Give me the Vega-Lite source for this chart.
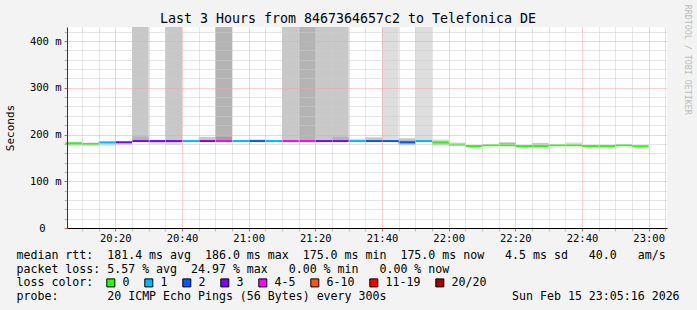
{
  "$schema": "https://vega.github.io/schema/vega-lite/v6.json",
  "width": 600,
  "height": 201,
  "autosize": {"type": "none"},
  "padding": {"left": 67, "top": 27, "right": 30, "bottom": 82},
  "background": "#f3f3f3",
  "title": {
    "text": "Last 3 Hours from 8467364657c2 to Telefonica DE",
    "font": "DejaVu Sans Mono",
    "fontSize": 13.3,
    "fontWeight": "normal",
    "color": "#000000",
    "anchor": "middle",
    "frame": "group",
    "dx": -19,
    "offset": -32,
    "baseline": "alphabetic"
  },
  "config": {
    "view": {"stroke": null, "fill": "#ffffff"},
    "font": "DejaVu Sans Mono"
  },
  "resolve": {"axis": {"x": "independent", "y": "independent"}},
  "datasets": {
    "smoke": [
      {"t": "2026-02-15T20:05:00Z", "t2": "2026-02-15T20:10:00Z", "lo": 176, "hi": 185, "shade": "l"},
      {"t": "2026-02-15T20:10:00Z", "t2": "2026-02-15T20:15:00Z", "lo": 176, "hi": 183, "shade": "l"},
      {"t": "2026-02-15T20:15:00Z", "t2": "2026-02-15T20:20:00Z", "lo": 176, "hi": 182, "shade": "l"},
      {"t": "2026-02-15T20:20:00Z", "t2": "2026-02-15T20:25:00Z", "lo": 177, "hi": 182, "shade": "l"},
      {"t": "2026-02-15T20:30:00Z", "t2": "2026-02-15T20:35:00Z", "lo": 180, "hi": 186, "shade": "l"},
      {"t": "2026-02-15T20:35:00Z", "t2": "2026-02-15T20:40:00Z", "lo": 178, "hi": 186, "shade": "l"},
      {"t": "2026-02-15T20:40:00Z", "t2": "2026-02-15T20:45:00Z", "lo": 186, "hi": 189, "shade": "l"},
      {"t": "2026-02-15T21:00:00Z", "t2": "2026-02-15T21:05:00Z", "lo": 186, "hi": 190, "shade": "l"},
      {"t": "2026-02-15T21:05:00Z", "t2": "2026-02-15T21:10:00Z", "lo": 186, "hi": 188, "shade": "l"},
      {"t": "2026-02-15T21:30:00Z", "t2": "2026-02-15T21:35:00Z", "lo": 186, "hi": 191, "shade": "l"},
      {"t": "2026-02-15T21:40:00Z", "t2": "2026-02-15T21:45:00Z", "lo": 186, "hi": 430, "shade": "l"},
      {"t": "2026-02-15T21:50:00Z", "t2": "2026-02-15T21:55:00Z", "lo": 186, "hi": 430, "shade": "l"},
      {"t": "2026-02-15T21:55:00Z", "t2": "2026-02-15T22:00:00Z", "lo": 176, "hi": 189, "shade": "l"},
      {"t": "2026-02-15T22:00:00Z", "t2": "2026-02-15T22:05:00Z", "lo": 180, "hi": 183, "shade": "l"},
      {"t": "2026-02-15T22:35:00Z", "t2": "2026-02-15T22:40:00Z", "lo": 179, "hi": 183, "shade": "l"},
      {"t": "2026-02-15T20:05:00Z", "t2": "2026-02-15T20:10:00Z", "lo": 177, "hi": 181, "shade": "m"},
      {"t": "2026-02-15T20:10:00Z", "t2": "2026-02-15T20:15:00Z", "lo": 177, "hi": 181, "shade": "m"},
      {"t": "2026-02-15T20:25:00Z", "t2": "2026-02-15T20:30:00Z", "lo": 186, "hi": 430, "shade": "m"},
      {"t": "2026-02-15T20:35:00Z", "t2": "2026-02-15T20:40:00Z", "lo": 186, "hi": 430, "shade": "m"},
      {"t": "2026-02-15T20:45:00Z", "t2": "2026-02-15T20:50:00Z", "lo": 186, "hi": 195, "shade": "m"},
      {"t": "2026-02-15T21:10:00Z", "t2": "2026-02-15T21:15:00Z", "lo": 186, "hi": 430, "shade": "m"},
      {"t": "2026-02-15T21:20:00Z", "t2": "2026-02-15T21:25:00Z", "lo": 186, "hi": 430, "shade": "m"},
      {"t": "2026-02-15T21:25:00Z", "t2": "2026-02-15T21:30:00Z", "lo": 186, "hi": 430, "shade": "m"},
      {"t": "2026-02-15T21:35:00Z", "t2": "2026-02-15T21:40:00Z", "lo": 186, "hi": 194, "shade": "m"},
      {"t": "2026-02-15T21:45:00Z", "t2": "2026-02-15T21:50:00Z", "lo": 177, "hi": 192, "shade": "m"},
      {"t": "2026-02-15T21:55:00Z", "t2": "2026-02-15T22:00:00Z", "lo": 178, "hi": 187, "shade": "m"},
      {"t": "2026-02-15T22:25:00Z", "t2": "2026-02-15T22:30:00Z", "lo": 176, "hi": 182, "shade": "m"},
      {"t": "2026-02-15T20:25:00Z", "t2": "2026-02-15T20:30:00Z", "lo": 186, "hi": 196, "shade": "d"},
      {"t": "2026-02-15T20:50:00Z", "t2": "2026-02-15T20:55:00Z", "lo": 186, "hi": 430, "shade": "d"},
      {"t": "2026-02-15T21:15:00Z", "t2": "2026-02-15T21:20:00Z", "lo": 186, "hi": 430, "shade": "d"},
      {"t": "2026-02-15T21:25:00Z", "t2": "2026-02-15T21:30:00Z", "lo": 186, "hi": 195, "shade": "d"},
      {"t": "2026-02-15T21:45:00Z", "t2": "2026-02-15T21:50:00Z", "lo": 179, "hi": 188, "shade": "d"},
      {"t": "2026-02-15T22:15:00Z", "t2": "2026-02-15T22:20:00Z", "lo": 178, "hi": 183, "shade": "d"},
      {"t": "2026-02-15T20:50:00Z", "t2": "2026-02-15T20:55:00Z", "lo": 186, "hi": 195, "shade": "x"}
    ],
    "median": [
      {"t": "2026-02-15T20:05:00Z", "t2": "2026-02-15T20:10:00Z", "median": 181, "loss": "0"},
      {"t": "2026-02-15T20:10:00Z", "t2": "2026-02-15T20:15:00Z", "median": 179.6, "loss": "0"},
      {"t": "2026-02-15T20:15:00Z", "t2": "2026-02-15T20:20:00Z", "median": 183.2, "loss": "1"},
      {"t": "2026-02-15T20:20:00Z", "t2": "2026-02-15T20:25:00Z", "median": 183.2, "loss": "3"},
      {"t": "2026-02-15T20:25:00Z", "t2": "2026-02-15T20:30:00Z", "median": 186, "loss": "3"},
      {"t": "2026-02-15T20:30:00Z", "t2": "2026-02-15T20:35:00Z", "median": 186, "loss": "3"},
      {"t": "2026-02-15T20:35:00Z", "t2": "2026-02-15T20:40:00Z", "median": 186, "loss": "3"},
      {"t": "2026-02-15T20:40:00Z", "t2": "2026-02-15T20:45:00Z", "median": 186, "loss": "1"},
      {"t": "2026-02-15T20:45:00Z", "t2": "2026-02-15T20:50:00Z", "median": 186, "loss": "3"},
      {"t": "2026-02-15T20:50:00Z", "t2": "2026-02-15T20:55:00Z", "median": 186, "loss": "4-5"},
      {"t": "2026-02-15T20:55:00Z", "t2": "2026-02-15T21:00:00Z", "median": 186, "loss": "1"},
      {"t": "2026-02-15T21:00:00Z", "t2": "2026-02-15T21:05:00Z", "median": 186, "loss": "2"},
      {"t": "2026-02-15T21:05:00Z", "t2": "2026-02-15T21:10:00Z", "median": 186, "loss": "1"},
      {"t": "2026-02-15T21:10:00Z", "t2": "2026-02-15T21:15:00Z", "median": 186, "loss": "4-5"},
      {"t": "2026-02-15T21:15:00Z", "t2": "2026-02-15T21:20:00Z", "median": 186, "loss": "4-5"},
      {"t": "2026-02-15T21:20:00Z", "t2": "2026-02-15T21:25:00Z", "median": 186, "loss": "3"},
      {"t": "2026-02-15T21:25:00Z", "t2": "2026-02-15T21:30:00Z", "median": 186, "loss": "3"},
      {"t": "2026-02-15T21:30:00Z", "t2": "2026-02-15T21:35:00Z", "median": 186, "loss": "1"},
      {"t": "2026-02-15T21:35:00Z", "t2": "2026-02-15T21:40:00Z", "median": 186, "loss": "2"},
      {"t": "2026-02-15T21:40:00Z", "t2": "2026-02-15T21:45:00Z", "median": 186, "loss": "2"},
      {"t": "2026-02-15T21:45:00Z", "t2": "2026-02-15T21:50:00Z", "median": 183.5, "loss": "2"},
      {"t": "2026-02-15T21:50:00Z", "t2": "2026-02-15T21:55:00Z", "median": 186, "loss": "1"},
      {"t": "2026-02-15T21:55:00Z", "t2": "2026-02-15T22:00:00Z", "median": 183, "loss": "0"},
      {"t": "2026-02-15T22:00:00Z", "t2": "2026-02-15T22:05:00Z", "median": 178.3, "loss": "0"},
      {"t": "2026-02-15T22:05:00Z", "t2": "2026-02-15T22:10:00Z", "median": 175.3, "loss": "0"},
      {"t": "2026-02-15T22:10:00Z", "t2": "2026-02-15T22:15:00Z", "median": 177, "loss": "0"},
      {"t": "2026-02-15T22:15:00Z", "t2": "2026-02-15T22:20:00Z", "median": 177, "loss": "0"},
      {"t": "2026-02-15T22:20:00Z", "t2": "2026-02-15T22:25:00Z", "median": 175.3, "loss": "0"},
      {"t": "2026-02-15T22:25:00Z", "t2": "2026-02-15T22:30:00Z", "median": 175.3, "loss": "0"},
      {"t": "2026-02-15T22:30:00Z", "t2": "2026-02-15T22:35:00Z", "median": 177, "loss": "0"},
      {"t": "2026-02-15T22:35:00Z", "t2": "2026-02-15T22:40:00Z", "median": 177, "loss": "0"},
      {"t": "2026-02-15T22:40:00Z", "t2": "2026-02-15T22:45:00Z", "median": 175.3, "loss": "0"},
      {"t": "2026-02-15T22:45:00Z", "t2": "2026-02-15T22:50:00Z", "median": 175.3, "loss": "0"},
      {"t": "2026-02-15T22:50:00Z", "t2": "2026-02-15T22:55:00Z", "median": 177, "loss": "0"},
      {"t": "2026-02-15T22:55:00Z", "t2": "2026-02-15T23:00:00Z", "median": 175, "loss": "0"}
    ],
    "watermark": [
      {"label": "RRDTOOL / TOBI OETIKER"}
    ]
  },
  "layer": [
    {
      "data": {"name": "smoke"},
      "mark": {"type": "rect", "clip": true},
      "encoding": {
        "x": {
          "field": "t",
          "type": "temporal",
          "scale": {"type": "utc", "nice": false, "domain": [{"year": 2026, "month": 2, "date": 15, "hours": 20, "minutes": 5, "seconds": 30, "utc": true}, {"year": 2026, "month": 2, "date": 15, "hours": 23, "minutes": 5, "seconds": 30, "utc": true}]},
          "axis": {
            "orient": "bottom",
            "values": [1771186200000, 1771186500000, 1771186800000, 1771187100000, 1771187400000, 1771187700000, 1771188000000, 1771188300000, 1771188600000, 1771188900000, 1771189200000, 1771189500000, 1771189800000, 1771190100000, 1771190400000, 1771190700000, 1771191000000, 1771191300000, 1771191600000, 1771191900000, 1771192200000, 1771192500000, 1771192800000, 1771193100000, 1771193400000, 1771193700000, 1771194000000, 1771194300000, 1771194600000, 1771194900000, 1771195200000, 1771195500000, 1771195800000, 1771196100000, 1771196400000, 1771196700000],
            "labelExpr": "utcminutes(datum.value) % 20 == 0 ? utcFormat(datum.value, '%H:%M') : ''",
            "labelOverlap": false,
            "labelFlush": false,
            "labelFont": "DejaVu Sans Mono",
            "labelFontSize": 10.5,
            "labelColor": "#000000",
            "labelPadding": 2,
            "tickSize": 3,
            "tickColor": {"condition": {"test": "utcminutes(datum.value) % 20 == 0", "value": "#e06060"}, "value": "#b8b8b8"},
            "grid": true,
            "gridColor": {"condition": {"test": "utcminutes(datum.value) % 20 == 0", "value": "#f4a0a0"}, "value": "#cccccc"},
            "gridDash": [1, 1],
            "gridWidth": 1,
            "domainColor": "#000000",
            "zindex": 1,
            "title": [
              "median rtt:\u00a0\u00a0181.4 ms avg\u00a0\u00a0186.0 ms max\u00a0\u00a0175.0 ms min\u00a0\u00a0175.0 ms now\u00a0\u00a0\u00a04.5 ms sd\u00a0\u00a0\u00a040.0\u00a0\u00a0\u00a0am/s",
              "packet loss: 5.57 % avg\u00a0\u00a024.97 % max\u00a0\u00a0\u00a00.00 % min\u00a0\u00a0\u00a00.00 % now",
              "loss color:",
              "probe:\u00a0\u00a0\u00a0\u00a0\u00a0\u00a0\u00a020 ICMP Echo Pings (56 Bytes) every 300s\u00a0\u00a0\u00a0\u00a0\u00a0\u00a0\u00a0\u00a0\u00a0\u00a0\u00a0\u00a0\u00a0\u00a0\u00a0\u00a0\u00a0\u00a0Sun Feb 15 23:05:16 2026"
            ],
            "titleFont": "DejaVu Sans Mono",
            "titleFontSize": 11.6,
            "titleFontWeight": "normal",
            "titleColor": "#000000",
            "titleAlign": "left",
            "titleAnchor": "start",
            "titleBaseline": "alphabetic",
            "titleAngle": 0,
            "titleX": -51,
            "titleY": 30.5,
            "titleLineHeight": 13.7,
            "titleLimit": 1000
          }
        },
        "x2": {"field": "t2"},
        "y": {
          "field": "lo",
          "type": "quantitative",
          "scale": {"domain": [0, 430], "nice": false, "zero": false},
          "axis": {
            "orient": "left",
            "values": [0, 20, 40, 60, 80, 100, 120, 140, 160, 180, 200, 220, 240, 260, 280, 300, 320, 340, 360, 380, 400, 420],
            "labelExpr": "datum.value % 100 == 0 ? (datum.value == 0 ? '0\u2800\u2800' : datum.value + '\u00a0m') : ''",
            "labelOverlap": false,
            "labelFlush": false,
            "labelFont": "DejaVu Sans Mono",
            "labelFontSize": 10.5,
            "labelColor": "#000000",
            "labelPadding": 3,
            "tickSize": 3,
            "tickColor": {"condition": {"test": "datum.value % 100 == 0", "value": "#e06060"}, "value": "#b8b8b8"},
            "grid": true,
            "gridColor": {"condition": {"test": "datum.value % 100 == 0", "value": "#f4a0a0"}, "value": "#cccccc"},
            "gridDash": [1, 1],
            "gridWidth": 1,
            "domainColor": "#333333",
            "zindex": 1,
            "title": "Seconds",
            "titleFont": "DejaVu Sans Mono",
            "titleFontSize": 11,
            "titleFontWeight": "normal",
            "titleColor": "#000000",
            "titleAngle": 270,
            "titleAlign": "center",
            "titleBaseline": "middle",
            "titleX": -57,
            "titleY": 100.5
          }
        },
        "y2": {"field": "hi"},
        "fill": {
          "field": "shade",
          "type": "nominal",
          "scale": {"domain": ["l", "m", "d", "x"], "range": ["#dddddd", "#c8c8c8", "#b4b4b4", "#a0a0a0"]},
          "legend": null
        }
      }
    },
    {
      "data": {"name": "median"},
      "mark": {"type": "rect", "yOffset": -1, "y2Offset": 1},
      "encoding": {
        "x": {
          "field": "t",
          "type": "temporal",
          "scale": {"type": "utc", "nice": false, "domain": [{"year": 2026, "month": 2, "date": 15, "hours": 20, "minutes": 5, "seconds": 30, "utc": true}, {"year": 2026, "month": 2, "date": 15, "hours": 23, "minutes": 5, "seconds": 30, "utc": true}]},
          "axis": null
        },
        "x2": {"field": "t2"},
        "y": {
          "field": "median",
          "type": "quantitative",
          "scale": {"domain": [0, 430], "nice": false, "zero": false},
          "axis": null
        },
        "y2": {"field": "median"},
        "color": {
          "field": "loss",
          "type": "nominal",
          "scale": {
            "domain": ["0", "1", "2", "3", "4-5", "6-10", "11-19", "20/20"],
            "range": ["#26ff00", "#00b8ff", "#0059ff", "#7e00ff", "#ff00ff", "#ff5500", "#ff0000", "#a10000"]
          },
          "legend": {
            "title": null,
            "orient": "none",
            "legendX": 38,
            "legendY": 250,
            "direction": "horizontal",
            "columns": 8,
            "labelFont": "DejaVu Sans Mono",
            "labelFontSize": 11.6,
            "labelColor": "#000000",
            "labelOffset": 6,
            "columnPadding": 12,
            "symbolType": "square",
            "symbolSize": 64,
            "symbolStrokeColor": "#000000",
            "symbolStrokeWidth": 1,
            "symbolOpacity": 1,
            "padding": 0
          }
        }
      }
    },
    {
      "data": {"name": "watermark"},
      "mark": {"type": "text", "angle": 90, "font": "DejaVu Sans Mono", "fontSize": 8.3, "color": "#bdbdbd", "align": "center", "baseline": "middle"},
      "encoding": {
        "x": {
          "datum": {"year": 2026, "month": 2, "date": 15, "hours": 23, "minutes": 11, "seconds": 25, "utc": true},
          "type": "temporal",
          "scale": {"type": "utc", "nice": false, "domain": [{"year": 2026, "month": 2, "date": 15, "hours": 20, "minutes": 5, "seconds": 30, "utc": true}, {"year": 2026, "month": 2, "date": 15, "hours": 23, "minutes": 5, "seconds": 30, "utc": true}]},
          "axis": null
        },
        "y": {
          "datum": 360,
          "type": "quantitative",
          "scale": {"domain": [0, 430], "nice": false, "zero": false},
          "axis": null
        },
        "text": {"field": "label"}
      }
    }
  ]
}
